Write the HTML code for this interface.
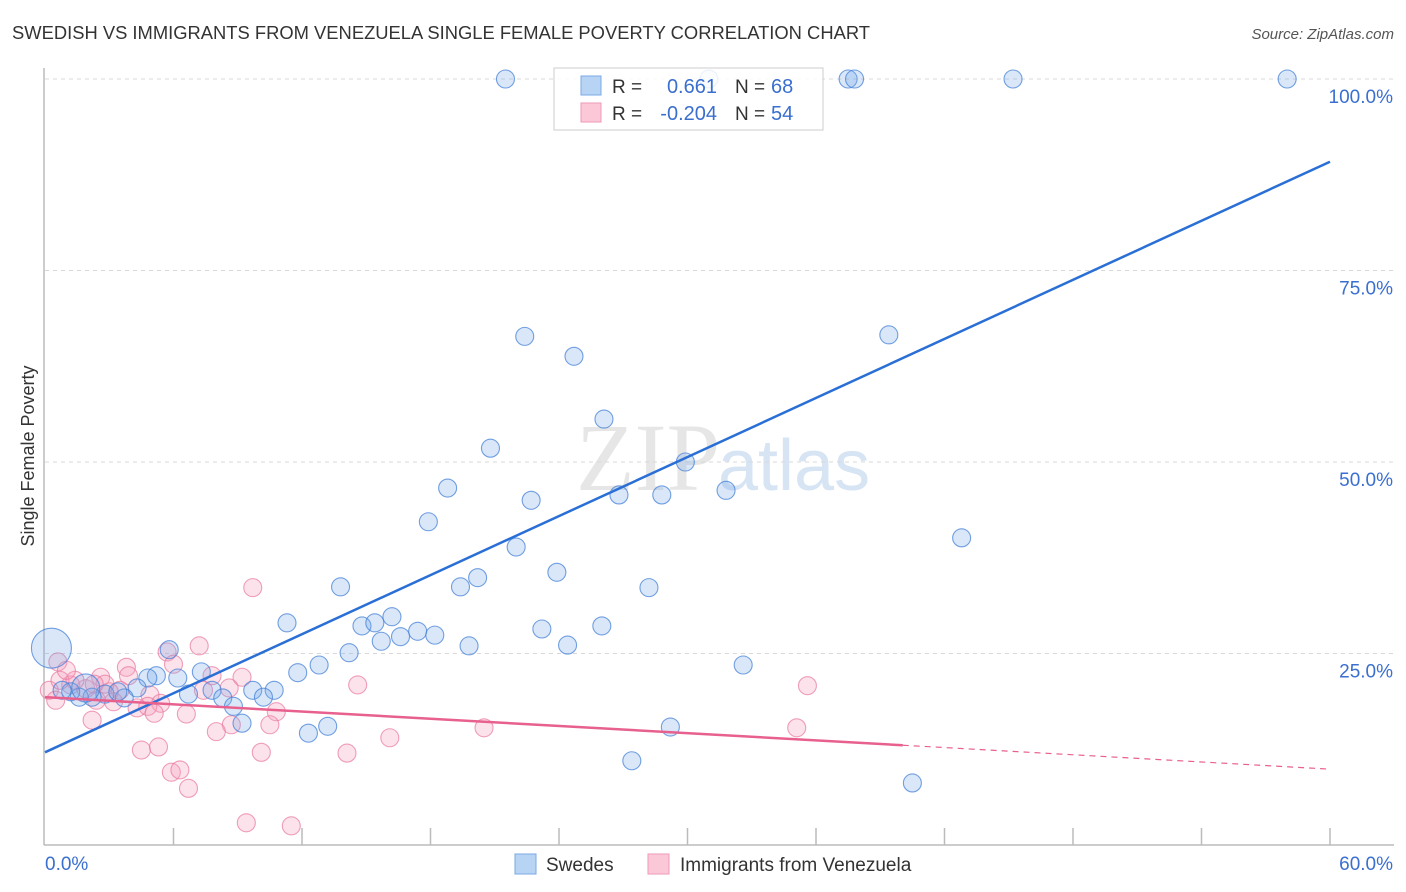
<!DOCTYPE html>
<html><head><meta charset="utf-8"><style>
body{margin:0;background:#fff;font-family:"Liberation Sans",sans-serif;}
svg{display:block}
</style></head><body>
<svg id="chart" width="1406" height="892" xmlns="http://www.w3.org/2000/svg">
<text x="12" y="39" font-size="18" fill="#333" textLength="858" lengthAdjust="spacingAndGlyphs">SWEDISH VS IMMIGRANTS FROM VENEZUELA SINGLE FEMALE POVERTY CORRELATION CHART</text>
<text x="1394" y="39" font-size="15" fill="#555" font-style="italic" text-anchor="end">Source: ZipAtlas.com</text>
<text x="720" y="490" font-size="96" fill="#e6e6e6" text-anchor="end" font-family="Liberation Serif,serif">ZIP</text>
<text x="718" y="490" font-size="72" fill="#d6e4f4">atlas</text>
<text transform="translate(34,456) rotate(-90)" font-size="18" fill="#333" text-anchor="middle">Single Female Poverty</text>
<g id="grid"></g><g id="axes"></g><g id="pinkpts"></g><g id="bluepts"></g><g id="lines"></g>
<g>
<rect x="554" y="68" width="269" height="62" fill="rgba(255,255,255,0.85)" stroke="#ccc"/>
<rect x="581" y="76" width="20" height="19" fill="#b8d4f4" stroke="#7aaae6"/>
<rect x="581" y="103" width="20" height="19" fill="#fbc8d8" stroke="#ef9ab6"/>
<text x="612" y="93" font-size="19" fill="#333">R =</text><text x="717" y="93" font-size="20" fill="#3a6fd0" text-anchor="end">0.661</text>
<text x="735" y="93" font-size="19" fill="#333">N =</text><text x="771" y="93" font-size="20" fill="#3a6fd0">68</text>
<text x="612" y="120" font-size="19" fill="#333">R =</text><text x="717" y="120" font-size="20" fill="#3a6fd0" text-anchor="end">-0.204</text>
<text x="735" y="120" font-size="19" fill="#333">N =</text><text x="771" y="120" font-size="20" fill="#3a6fd0">54</text>
</g>
<g>
<rect x="515" y="854" width="21" height="20" fill="#b8d4f4" stroke="#7aaae6"/>
<text x="546" y="871" font-size="19" fill="#333">Swedes</text>
<rect x="648" y="854" width="21" height="20" fill="#fbc8d8" stroke="#ef9ab6"/>
<text x="680" y="871" font-size="19" fill="#333">Immigrants from Venezuela</text>
</g>
</svg>
<script>
const yTicks=[25,50,75,100];
const yTickLabels=["25.0%","50.0%","75.0%","100.0%"];
const xEndLabels=["0.0%","60.0%"];
const blueX=[21.5,31.0,37.5,37.8,45.2,58.0,22.4,24.7,39.4,26.1,20.8,29.9,18.8,22.7,26.8,28.8,31.8,17.9,42.8,22.0,23.9,20.2,19.4,28.2,13.8,11.3,16.2,14.8,15.4,17.4,16.6,18.2,15.7,23.2,26.0,24.4,19.8,14.2,32.6,12.8,11.8,5.8,7.3,5.2,4.8,6.2,4.3,7.8,9.7,10.7,6.7,8.3,10.2,8.8,2.8,3.7,3.4,2.2,1.6,1.2,0.8,9.2,13.2,12.3,29.2,27.4,40.5,0.3,1.9];
const blueY=[100,100,100,100,100,100,66.4,63.8,66.6,55.6,51.8,50.0,46.6,45.0,45.7,45.7,46.3,42.2,40.1,38.9,35.6,34.9,33.7,33.6,33.7,29.0,29.8,28.6,29.0,27.9,27.2,27.4,26.6,28.2,28.6,26.1,26.0,25.1,23.5,23.5,22.5,25.5,22.6,22.1,21.8,21.8,20.5,20.2,20.2,20.2,19.7,19.2,19.3,18.1,19.7,19.2,20.0,19.3,19.3,20.0,20.2,15.9,15.5,14.6,15.4,11.0,8.1,25.7,20.5];
const blueR=[9,9,9,9,9,9,9,9,9,9,9,9,9,9,9,9,9,9,9,9,9,9,9,9,9,9,9,9,9,9,9,9,9,9,9,9,9,9,9,9,9,9,9,9,9,9,9,9,9,9,9,9,9,9,9,9,9,9,9,9,9,9,9,9,9,9,9,20,14];
const pinkX=[9.7,7.2,5.7,6.0,3.8,0.6,2.6,3.9,7.8,9.2,14.6,35.6,8.6,3.5,0.2,1.2,1.9,3.0,4.9,7.4,0.5,2.4,3.2,5.4,4.3,4.8,6.6,5.1,10.8,2.2,10.5,8.7,20.5,35.1,8.0,16.1,4.5,5.3,10.1,14.1,5.9,6.3,6.7,9.4,11.5,0.7,1.4,1.0,2.8,2.3];
const pinkY=[33.6,26.0,25.2,23.6,23.2,23.9,21.9,22.1,22.1,21.9,20.9,20.8,20.5,20.2,20.2,20.9,20.4,20.0,19.6,20.2,18.9,18.9,18.7,18.5,17.9,18.1,17.1,17.2,17.4,16.3,15.7,15.7,15.3,15.3,14.8,14.0,12.4,12.8,12.1,12.0,9.5,9.8,7.4,2.9,2.5,21.5,21.5,22.8,21.0,21.0];
const blueTrend=[12.1,89.2];
const pinkTrend=[19.3,9.9];
const pinkSolidEnd=40.05;
const NS="http://www.w3.org/2000/svg";
const X=v=>45+v/60*1285, Y=v=>845-v/100*766;
function mk(tag,attrs,parent){const e=document.createElementNS(NS,tag);for(const k in attrs)e.setAttribute(k,attrs[k]);parent.appendChild(e);return e;}
const grid=document.getElementById('grid'),axes=document.getElementById('axes');
yTicks.forEach((t,i)=>{
 const l=mk('line',{x1:45,x2:1394,y1:Y(t),y2:Y(t),stroke:'#d8d8d8','stroke-dasharray':'4,4'},grid);
 
 
 const tx=mk('text',{x:1393,y:Y(t)+24,'font-size':19,fill:'#3a6fd0','text-anchor':'end'},axes);
 tx.textContent=yTickLabels[i];
 
 
});
const la=mk('line',{x1:44,x2:44,y1:68,y2:845,stroke:'#bbb','stroke-width':1.5},axes);


const ba=mk('line',{x1:44,x2:1394,y1:845,y2:845,stroke:'#bbb','stroke-width':1.5},axes);


for(let i=1;i<=10;i++){const t=mk('line',{x1:X(i*6),x2:X(i*6),y1:828,y2:845,stroke:'#bbb','stroke-width':1.5},axes);
 
 }
const xl0=mk('text',{x:45,y:870,'font-size':19,fill:'#3a6fd0'},axes);xl0.textContent=xEndLabels[0];


const xl1=mk('text',{x:1393,y:870,'font-size':19,fill:'#3a6fd0','text-anchor':'end'},axes);xl1.textContent=xEndLabels[1];


const pg=document.getElementById('pinkpts'),bg=document.getElementById('bluepts');
pinkX.forEach((x,i)=>{const c=mk('circle',{cx:X(x),cy:Y(pinkY[i]),r:9,fill:'rgba(244,160,188,0.3)',stroke:'rgba(232,120,158,0.7)','stroke-width':1.1},pg);
 
 });
blueX.forEach((x,i)=>{const c=mk('circle',{cx:X(x),cy:Y(blueY[i]),r:blueR[i],fill:'rgba(120,170,232,0.28)',stroke:'rgba(70,130,215,0.75)','stroke-width':1.1},bg);
 
 });
const lg=document.getElementById('lines');
const bl=mk('line',{x1:X(0),y1:Y(blueTrend[0]),x2:X(60),y2:Y(blueTrend[1]),stroke:'#2a6fd6','stroke-width':2.5},lg);


const pAt=x=>pinkTrend[0]+(pinkTrend[1]-pinkTrend[0])*x/60;
const pl=mk('line',{x1:X(0),y1:Y(pinkTrend[0]),x2:X(pinkSolidEnd),y2:Y(pAt(pinkSolidEnd)),stroke:'#e8608e','stroke-width':2.5},lg);


const pd=mk('line',{x1:X(pinkSolidEnd),y1:Y(pAt(pinkSolidEnd)),x2:X(60),y2:Y(pinkTrend[1]),stroke:'#e8608e','stroke-width':1.2,'stroke-dasharray':'6,5'},lg);


</script>
</body></html>
